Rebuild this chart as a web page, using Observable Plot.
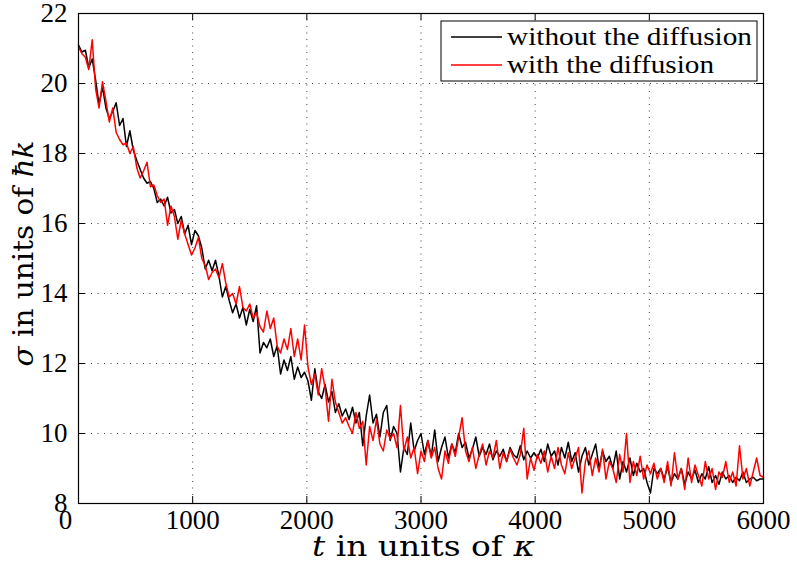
<!DOCTYPE html>
<html><head><meta charset="utf-8">
<script src="https://cdn.jsdelivr.net/npm/d3@7"></script>
<script src="https://cdn.jsdelivr.net/npm/@observablehq/plot@0.6"></script>
<style>
body{margin:0;background:#fff;}
#chart{position:relative;width:797px;height:563px;}
#chart svg text:not(.ttl){font-family:"Liberation Serif",serif !important;}
#chart svg text.ttl, #chart svg text.ttl tspan{font-family:"DejaVu Serif",serif !important;}
</style></head><body><div id="chart"></div>
<script>
const tStep = 30;
const sigmaWithout = [
21.1, 20.9, 20.95, 20.45, 20.7, 20.1, 19.4, 19.9, 19.3, 19.0,
19.2, 19.45, 18.8, 19.0, 18.2, 18.65, 18.1, 17.8, 17.55, 17.3,
17.15, 17.2, 17.0, 16.6, 16.7, 16.5, 16.75, 16.3, 16.4, 16.0,
16.2, 15.7, 15.95, 15.4, 15.8, 15.65, 15.3, 14.7, 14.95, 14.65,
14.95, 14.5, 13.9, 14.2, 13.8, 13.45, 13.7, 13.3, 13.6, 13.1,
13.55, 13.2, 13.65, 12.3, 12.6, 12.45, 12.7, 12.2, 12.5, 11.7,
12.1, 11.8, 12.2, 11.55, 11.9, 11.6, 11.75, 11.5, 10.95, 11.85,
11.2, 11.0, 11.4, 10.9, 11.2, 10.6, 10.85, 10.5, 10.7, 10.4,
10.75, 10.3, 10.6, 9.65, 10.5, 11.1, 10.3, 10.55, 9.9, 10.6,
10.8, 9.8, 10.2, 10.0, 8.9, 9.6, 9.4, 10.3, 9.5, 9.8,
10.0, 9.4, 9.8, 9.35, 10.1, 9.2, 9.6, 9.9, 9.3, 9.7,
9.45, 10.0, 9.6, 9.75, 9.3, 9.55, 9.9, 9.35, 9.6, 9.4,
9.7, 9.25, 9.5, 9.35, 9.55, 9.2, 9.6, 9.4, 9.3, 9.65,
9.25, 9.5, 9.3, 9.45, 9.3, 9.55, 9.2, 9.7, 9.35, 9.5,
9.1, 9.6, 9.3, 9.75, 9.2, 9.45, 8.9, 9.35, 9.6, 9.1,
9.4, 9.7, 9.0, 9.5, 9.2, 9.35, 9.0, 9.5, 8.7, 9.2,
8.9, 9.3, 8.8, 9.15, 8.9, 9.0, 8.6, 8.3, 9.0, 8.85,
9.0, 8.7, 9.05, 8.6, 8.85, 8.7, 9.0, 8.55, 8.9, 8.7,
8.95, 8.6, 8.85, 8.7, 9.05, 8.6, 8.8, 8.55, 8.9, 8.7,
8.8, 8.6, 8.75, 8.65, 8.9, 8.6, 8.7, 8.75, 8.65, 8.7,
8.7
];
const sigmaWith = [
21.05, 20.85, 20.75, 20.4, 21.25, 19.85, 19.3, 20.05, 19.5, 18.9,
19.3, 18.6, 18.4, 18.25, 18.3, 18.0, 18.2, 17.6, 17.3, 17.5,
17.75, 17.05, 17.1, 16.8, 16.6, 16.7, 15.95, 16.5, 16.2, 15.55,
16.1, 15.7, 15.4, 15.1, 15.3, 15.6, 15.0, 14.8, 14.4, 14.6,
14.7, 14.45, 14.85, 14.3, 13.9, 14.0, 13.7, 14.2, 13.6, 13.5,
13.7, 13.3, 13.45, 13.05, 12.9, 13.5, 13.0, 13.3, 12.5, 12.3,
12.7, 12.4, 13.0, 12.2, 12.7, 12.1, 13.1, 11.9, 11.4, 11.7,
11.1, 11.85, 11.3, 10.35, 11.55, 10.9, 10.6, 10.3, 10.45, 10.2,
10.0, 10.6, 10.15, 10.35, 9.1, 10.2, 9.8, 10.4, 9.7, 9.5,
10.1, 9.85, 10.0, 9.6, 10.8, 9.5, 9.9, 9.3, 9.6, 8.85,
9.5, 9.2, 9.8, 9.3, 9.6, 9.0, 8.7, 9.5, 9.15, 9.7,
9.35, 9.9, 10.45, 9.5, 9.2, 9.6, 9.0, 9.4, 9.7, 9.1,
9.5, 9.3, 9.8, 9.0, 9.45, 9.2, 9.55, 9.3, 9.1, 9.4,
10.15, 8.7, 9.3, 8.95, 9.4, 9.15, 9.5, 8.9, 9.35, 9.0,
9.6, 9.1, 8.85, 9.45, 9.0, 9.3, 9.6, 8.3, 9.2, 9.5,
8.8, 9.3, 8.9, 9.55, 8.7, 9.2, 9.0, 8.6, 9.4, 8.9,
10.0, 8.6, 9.2, 8.8, 9.35, 8.7, 9.1, 8.85, 9.15, 8.7,
9.0, 8.6, 9.2, 8.5, 9.45, 8.7, 9.0, 8.4, 9.3, 8.6,
9.1, 8.8, 8.5, 9.2, 8.7, 9.0, 8.4, 8.9, 8.75, 9.2,
8.6, 8.9, 8.5, 9.65, 8.7, 9.0, 8.5, 8.9, 9.3, 8.8,
8.75
];
const xTicks = [0, 1000, 2000, 3000, 4000, 5000, 6000];
const yTicks = [8, 10, 12, 14, 16, 18, 20, 22];
const seriesNames = ["without the diffusion", "with the diffusion"];
const seriesColors = ["#000000", "#ff0000"];

const rows = [];
[sigmaWithout, sigmaWith].forEach((arr, k) => {
  arr.forEach((v, i) => rows.push({t: i * tStep, sigma: v, series: seriesNames[k]}));
});

const serif = "Liberation Serif";
const gridStyle = {stroke: "#000", strokeOpacity: 0.75, strokeDasharray: "1,5.5"};

const chart = Plot.plot({
  width: 797, height: 563,
  marginLeft: 78, marginRight: 34, marginTop: 13, marginBottom: 60,
  style: {fontFamily: serif, fontSize: "27px", background: "#fff", color: "#000", overflow: "visible"},
  x: {domain: [0, 6000], label: null},
  y: {domain: [8, 22], label: null},
  color: {domain: seriesNames, range: seriesColors},
  marks: [
    Plot.gridX(xTicks.slice(1, -1), gridStyle),
    Plot.gridY(yTicks.slice(1, -1), gridStyle),
    Plot.line(rows, {x: "t", y: "sigma", z: "series", stroke: "series", strokeWidth: 1.5}),
    Plot.frame({stroke: "#000", strokeWidth: 1.2}),
    Plot.tickX(xTicks, {x: d => d, insetTop: 483, stroke: "#000"}),
    Plot.tickX(xTicks, {x: d => d, insetBottom: 483, stroke: "#000"}),
    Plot.tickY(yTicks, {y: d => d, insetRight: 678, stroke: "#000"}),
    Plot.tickY(yTicks, {y: d => d, insetLeft: 678, stroke: "#000"}),
    Plot.axisX(xTicks.slice(1), {anchor: "bottom", tickSize: 0, tickPadding: 6, label: null, fontFamily: serif, fontSize: 27, tickFormat: d => String(d)}),
    Plot.axisX([0], {anchor: "bottom", tickSize: 0, tickPadding: 6, dx: -13, label: null, fontFamily: serif, fontSize: 27, tickFormat: d => String(d)}),
    Plot.axisY(yTicks, {anchor: "left", tickSize: 0, tickPadding: 11, label: null, fontFamily: serif, fontSize: 27, tickFormat: d => String(d)})
  ]
});
document.getElementById("chart").appendChild(chart);

const svg = d3.select(chart);
// axis titles
const xt = svg.append("text").attr("class", "ttl")
  .attr("x", 423.5).attr("y", 556).attr("text-anchor", "middle")
  .attr("font-size", 27).attr("fill", "#000")
  .attr("textLength", 223).attr("lengthAdjust", "spacingAndGlyphs");
xt.append("tspan").attr("font-style", "italic").text("t");
xt.append("tspan").text(" in units of ");
xt.append("tspan").attr("font-style", "italic").text("κ");

const yt = svg.append("text").attr("class", "ttl")
  .attr("transform", "translate(33,253.5) rotate(-90)").attr("text-anchor", "middle")
  .attr("font-size", 28).attr("fill", "#000")
  .attr("textLength", 226).attr("lengthAdjust", "spacingAndGlyphs");
yt.append("tspan").attr("font-style", "italic").text("σ");
yt.append("tspan").text(" in units of ");
yt.append("tspan").attr("font-style", "italic").text("ħk");

// legend
const leg = svg.append("g");
leg.append("rect").attr("x", 441).attr("y", 21).attr("width", 316).attr("height", 60)
  .attr("fill", "#fff").attr("stroke", "#000").attr("stroke-width", 1);
const legLens = [245, 207];
seriesNames.forEach((name, i) => {
  const y = 37 + i * 28;
  leg.append("line").attr("x1", 451).attr("x2", 502).attr("y1", y).attr("y2", y)
    .attr("stroke", seriesColors[i]).attr("stroke-width", 1.3);
  leg.append("text").attr("x", 507).attr("y", y + 8).attr("text-anchor", "start")
    .attr("font-size", 26).attr("fill", "#000")
    .attr("textLength", legLens[i]).attr("lengthAdjust", "spacingAndGlyphs")
    .text(name);
});
</script>
</body></html>
